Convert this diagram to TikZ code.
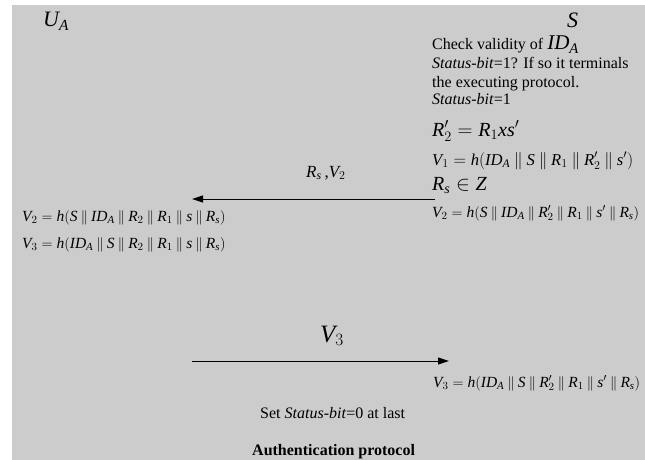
\documentclass[tikz,border=0pt]{standalone}
\usepackage{fontspec}
\setmainfont{Liberation Serif}
\DeclareSymbolFont{letters}{TU}{\rmdefault}{m}{it}
\DeclareSymbolFont{operators}{TU}{\rmdefault}{m}{n}
\usetikzlibrary{positioning,arrows.meta}
\newcommand{\cat}{\mathbin{\|}}
\newcommand{\sbit}{\textit{Status-bit}}

\begin{document}
\begin{tikzpicture}[x=1pt,y=-1pt,
  txt/.style={anchor=base west,inner sep=0pt,font=\fontsize{16}{18}\selectfont},
  big/.style={txt,font=\fontsize{20}{22}\selectfont},
  mid/.style={txt,font=\fontsize{17}{20}\selectfont},
  sml/.style={txt,font=\fontsize{15.5}{18}\selectfont},
  party/.style={txt,font=\fontsize{22}{24}\selectfont},
  msg/.style={-{Triangle[length=11pt,width=7pt]},line width=1pt}]
\colorlet{paper}{black!20}
% grey sheet
\fill[paper] (12,5) rectangle (645,460);
\useasboundingbox (0,0) rectangle (645,460);
% parties
\node[party] (ua) at (43,27) {$U_A$};
\node[party] (srv) at (567,28) {$S$};
% server checks
\node[txt] (chk) at (432,50) {Check validity of {\fontsize{21}{21}\selectfont$ID_A$}};
\node[txt] (stat) at (432,69) {\sbit=1? If so it terminals};
\node[txt] (exec) at (432,87) {the executing protocol.};
\node[txt] (statset) at (432,104) {\sbit=1};
\node[big] (rtwo) at (432,136) {$R'_2=R_1xs'$};
\node[mid,font=\fontsize{16.6}{20}\selectfont] (vone) at (432,165) {$V_1=h(ID_A\cat S\cat R_1\cat R'_2\cat s')$};
\node[big] (rs) at (432,190) {$R_s\in Z$};
\node[sml] (vtwo) at (432,217) {$V_2=h(S\cat ID_A\cat R'_2\cat R_1\cat s'\cat R_s)$};
% first message: S -> U_A
\node[mid] (msga) at (306,177) {$R_s$\,,$V_2$};
\coordinate (srvout) at (435,199);
\coordinate (uin) at (192,199);
\draw[msg] (srvout) -- (uin);
% user side
\node[sml] (uvtwo) at (22,221) {$V_2=h(S\cat ID_A\cat R_2\cat R_1\cat s\cat R_s)$};
\node[sml] (uvthree) at (22,248) {$V_3=h(ID_A\cat S\cat R_2\cat R_1\cat s\cat R_s)$};
% second message: U_A -> S
\node[txt,font=\fontsize{25}{27}\selectfont] (msgb) at (320,342) {$V_3$};
\coordinate (uout) at (192,361);
\coordinate (srvin) at (449,361);
\draw[msg] (uout) -- (srvin);
\node[sml] (svthree) at (433,387) {$V_3=h(ID_A\cat S\cat R'_2\cat R_1\cat s'\cat R_s)$};
\node[txt] (setbit) at (260,418) {Set \sbit=0 at last};
% caption
\node[txt,font=\fontsize{16}{18}\selectfont\bfseries] (title) at (252,455) {Authentication protocol};
\end{tikzpicture}
\end{document}
